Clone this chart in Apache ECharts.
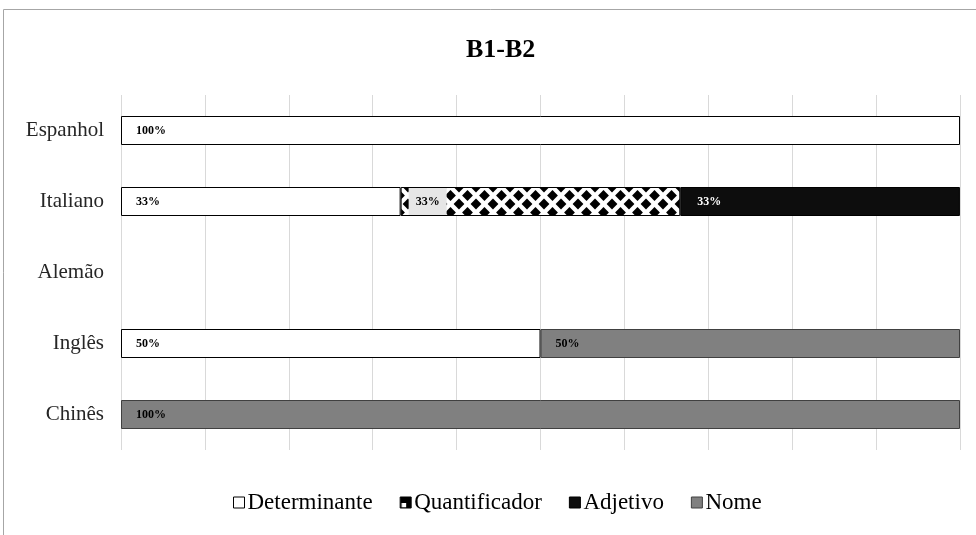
<!DOCTYPE html>
<html><head><meta charset="utf-8">
<script src="https://cdn.jsdelivr.net/npm/echarts@6/dist/echarts.min.js"></script>
<style>html,body{margin:0;padding:0;background:#fff}#c{width:976px;height:535px}</style>
</head><body><div id="c"></div>
<script>
const categories = ['Espanhol', 'Italiano', 'Alemão', 'Inglês', 'Chinês'];
const determinante = [100, 33.33, 0, 50, 0];
const quantificador = [0, 33.33, 0, 0, 0];
const adjetivo = [0, 33.33, 0, 0, 0];
const nome = [0, 0, 0, 50, 100];
const xTicks = [0, 10, 20, 30, 40, 50, 60, 70, 80, 90, 100];

function makePattern() {
  const c = document.createElement('canvas');
  c.width = 17; c.height = 17;
  const g = c.getContext('2d');
  g.fillStyle = '#fff'; g.fillRect(0, 0, 17, 17);
  g.fillStyle = '#000';
  const pts = [[0,0],[17,0],[0,17],[17,17],[8.5,8.5]];
  pts.forEach(([x,y]) => {
    g.beginPath();
    g.moveTo(x, y - 5.4); g.lineTo(x + 5.4, y); g.lineTo(x, y + 5.4); g.lineTo(x - 5.4, y); g.closePath(); g.fill();
  });
  return c;
}
function makeIcon() {
  const c = document.createElement('canvas');
  c.width = 12; c.height = 12;
  const g = c.getContext('2d');
  g.fillStyle = '#000'; g.fillRect(0, 0, 12, 12);
  g.fillStyle = '#fff'; g.fillRect(1.5, 6, 4.5, 4.5);
  return c;
}
const pattern = { image: makePattern(), repeat: 'repeat' };
const iconPattern = { image: makeIcon(), repeat: 'no-repeat' };
const nz = arr => arr.map(v => (v === 0 ? '-' : v));

const font = 'Liberation Serif';
function lbl(color, extra) {
  return Object.assign({
    show: true, position: 'insideLeft', distance: 15, fontFamily: font, fontSize: 12,
    fontWeight: 'bold', color: color,
    formatter: p => Math.round(p.value) + '%'
  }, extra || {});
}
const chart = echarts.init(document.getElementById('c'));
chart.setOption({
  animation: false,
  title: { text: 'B1-B2', left: 461, top: 32, textStyle: { fontFamily: font, fontSize: 26, fontWeight: 'bold', color: '#000' } },
  graphic: [{ type: 'rect', shape: { x: 3.5, y: 9.5, width: 1200, height: 800 }, style: { fill: 'none', stroke: '#a6a6a6', lineWidth: 1 }, silent: true, z: -10 }],
  grid: { left: 121, right: 16, top: 95, bottom: 85, containLabel: false },
  legend: {
    bottom: 16, left: 228, icon: 'rect', itemWidth: 11, itemHeight: 11, itemGap: 27,
    textStyle: { fontFamily: font, fontSize: 23, color: '#000', padding: [0, 0, 0, -2] },
    data: [
      { name: 'Determinante', itemStyle: { color: '#fff', borderColor: '#000', borderWidth: 1 } },
      { name: 'Quantificador', itemStyle: { color: iconPattern, borderColor: '#000', borderWidth: 1 } },
      { name: 'Adjetivo', itemStyle: { color: '#0d0d0d', borderColor: '#000', borderWidth: 1 } },
      { name: 'Nome', itemStyle: { color: '#808080', borderColor: '#404040', borderWidth: 1 } }
    ]
  },
  xAxis: {
    type: 'value', min: xTicks[0], max: xTicks[xTicks.length - 1], interval: xTicks[1] - xTicks[0],
    axisLabel: { show: false }, axisLine: { show: false }, axisTick: { show: false },
    splitLine: { show: true, lineStyle: { color: '#d9d9d9', width: 1 } }
  },
  yAxis: {
    type: 'category', data: categories, inverse: true,
    axisLine: { show: false }, axisTick: { show: false },
    axisLabel: { fontFamily: font, fontSize: 21, color: '#262626', margin: 17 }
  },
  series: [
    { name: 'Determinante', type: 'bar', stack: 't', data: nz(determinante), barWidth: 29,
      itemStyle: { color: '#fff', borderColor: '#000', borderWidth: 1 }, label: lbl('#000') },
    { name: 'Quantificador', type: 'bar', stack: 't', data: nz(quantificador), barWidth: 29,
      itemStyle: { color: pattern, borderColor: '#000', borderWidth: 1 },
      label: lbl('#000', { distance: 8, backgroundColor: '#e6e6e6', padding: [8, 7, 7, 7] }) },
    { name: 'Adjetivo', type: 'bar', stack: 't', data: nz(adjetivo), barWidth: 29,
      itemStyle: { color: '#0d0d0d', borderColor: '#000', borderWidth: 1 }, label: lbl('#fff', { distance: 17 }) },
    { name: 'Nome', type: 'bar', stack: 't', data: nz(nome), barWidth: 29,
      itemStyle: { color: '#808080', borderColor: '#404040', borderWidth: 1 }, label: lbl('#000') }
  ]
});
</script></body></html>
